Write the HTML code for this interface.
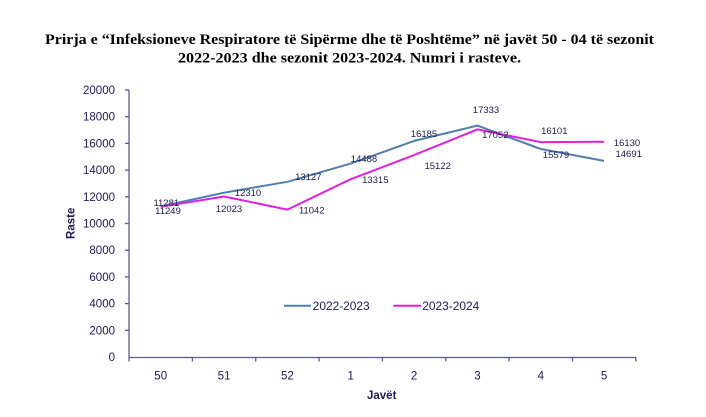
<!DOCTYPE html>
<html>
<head>
<meta charset="utf-8">
<style>
  html, body { margin: 0; padding: 0; background: #ffffff; }
  svg { display: block; }
  .title { font-family: "Liberation Serif", serif; font-weight: bold; font-size: 15px; fill: #000; }
  .ax { font-family: "Liberation Sans", sans-serif; font-size: 11.5px; fill: #1b1b55; }
  .lbl { font-family: "Liberation Sans", sans-serif; font-size: 9.5px; fill: #1b1b50; }
  .bold { font-family: "Liberation Sans", sans-serif; font-size: 11.5px; font-weight: bold; fill: #1b1b55; }
</style>
</head>
<body>
<svg width="706" height="417" viewBox="0 0 706 417" xmlns="http://www.w3.org/2000/svg">
  <rect width="706" height="417" fill="#ffffff"/>

  <!-- Title -->
  <text class="title" x="45" y="44" textLength="609" lengthAdjust="spacingAndGlyphs">Prirja e “Infeksioneve Respiratore të Sipërme dhe të Poshtëme” në javët 50 - 04 të sezonit</text>
  <text class="title" x="178" y="62.5" textLength="343" lengthAdjust="spacingAndGlyphs">2022-2023 dhe sezonit 2023-2024. Numri i rasteve.</text>

  <!-- Axes -->
  <g stroke="#5a5a9a" stroke-width="1.3" fill="none">
    <line x1="129" y1="90" x2="129" y2="357.5"/>
    <line x1="129" y1="357.5" x2="636" y2="357.5"/>
    <!-- y ticks -->
    <line x1="125" y1="90" x2="129" y2="90"/>
    <line x1="125" y1="116.7" x2="129" y2="116.7"/>
    <line x1="125" y1="143.4" x2="129" y2="143.4"/>
    <line x1="125" y1="170.1" x2="129" y2="170.1"/>
    <line x1="125" y1="196.8" x2="129" y2="196.8"/>
    <line x1="125" y1="223.5" x2="129" y2="223.5"/>
    <line x1="125" y1="250.2" x2="129" y2="250.2"/>
    <line x1="125" y1="276.9" x2="129" y2="276.9"/>
    <line x1="125" y1="303.6" x2="129" y2="303.6"/>
    <line x1="125" y1="330.3" x2="129" y2="330.3"/>
    <!-- x ticks -->
    <line x1="129" y1="357.5" x2="129" y2="361.5"/>
    <line x1="192.4" y1="357.5" x2="192.4" y2="361.5"/>
    <line x1="255.7" y1="357.5" x2="255.7" y2="361.5"/>
    <line x1="319.1" y1="357.5" x2="319.1" y2="361.5"/>
    <line x1="382.4" y1="357.5" x2="382.4" y2="361.5"/>
    <line x1="445.8" y1="357.5" x2="445.8" y2="361.5"/>
    <line x1="509.1" y1="357.5" x2="509.1" y2="361.5"/>
    <line x1="572.5" y1="357.5" x2="572.5" y2="361.5"/>
    <line x1="635.8" y1="357.5" x2="635.8" y2="361.5"/>
  </g>

  <!-- Y labels -->
  <g class="ax" text-anchor="end">
    <text x="115" y="94">20000</text>
    <text x="115" y="120.7">18000</text>
    <text x="115" y="147.4">16000</text>
    <text x="115" y="174.1">14000</text>
    <text x="115" y="200.8">12000</text>
    <text x="115" y="227.5">10000</text>
    <text x="115" y="254.2">8000</text>
    <text x="115" y="280.9">6000</text>
    <text x="115" y="307.6">4000</text>
    <text x="115" y="334.3">2000</text>
    <text x="115" y="361">0</text>
  </g>

  <!-- X labels -->
  <g class="ax" text-anchor="middle">
    <text x="160.7" y="379.7">50</text>
    <text x="224.0" y="379.7">51</text>
    <text x="287.4" y="379.7">52</text>
    <text x="350.7" y="379.7">1</text>
    <text x="414.1" y="379.7">2</text>
    <text x="477.4" y="379.7">3</text>
    <text x="540.8" y="379.7">4</text>
    <text x="604.1" y="379.7">5</text>
  </g>

  <!-- Axis titles -->
  <text class="bold" x="381.7" y="399" text-anchor="middle">Javët</text>
  <text class="bold" transform="translate(74.7,223.3) rotate(-90)" text-anchor="middle">Raste</text>

  <!-- Series -->
  <polyline fill="none" stroke="#4f7fae" stroke-width="2" stroke-linejoin="round"
    points="160.7,206.4 224.0,192.7 287.4,181.8 350.7,163.6 414.1,140.9 477.4,125.6 540.8,149.0 604.1,160.9"/>
  <polyline fill="none" stroke="#e020e0" stroke-width="2" stroke-linejoin="round"
    points="160.7,206.8 224.0,196.5 287.4,209.6 350.7,179.2 414.1,155.1 477.4,129.4 540.8,142.1 604.1,141.7"/>

  <!-- Data labels -->
  <g class="lbl" text-anchor="middle">
    <text x="166.3" y="206.2">11281</text>
    <text x="168" y="214.2">11249</text>
    <text x="248" y="196.2">12310</text>
    <text x="229" y="212.2">12023</text>
    <text x="308.3" y="180.2">13127</text>
    <text x="311.7" y="213.5">11042</text>
    <text x="364" y="162.2">14488</text>
    <text x="375.3" y="182.8">13315</text>
    <text x="424" y="137.2">16185</text>
    <text x="437.7" y="169.2">15122</text>
    <text x="486" y="113.2">17333</text>
    <text x="495.3" y="137.8">17052</text>
    <text x="554.3" y="134.2">16101</text>
    <text x="556" y="158.2">15579</text>
    <text x="627" y="146.2">16130</text>
    <text x="628.7" y="156.8">14691</text>
  </g>

  <!-- Legend -->
  <line x1="284" y1="305.7" x2="311" y2="305.7" stroke="#4f7fae" stroke-width="2"/>
  <text class="ax" x="312.7" y="309.8" textLength="57" lengthAdjust="spacingAndGlyphs">2022-2023</text>
  <line x1="393.3" y1="305.7" x2="421" y2="305.7" stroke="#e020e0" stroke-width="2"/>
  <text class="ax" x="422.3" y="309.8" textLength="57" lengthAdjust="spacingAndGlyphs">2023-2024</text>
</svg>
</body>
</html>
